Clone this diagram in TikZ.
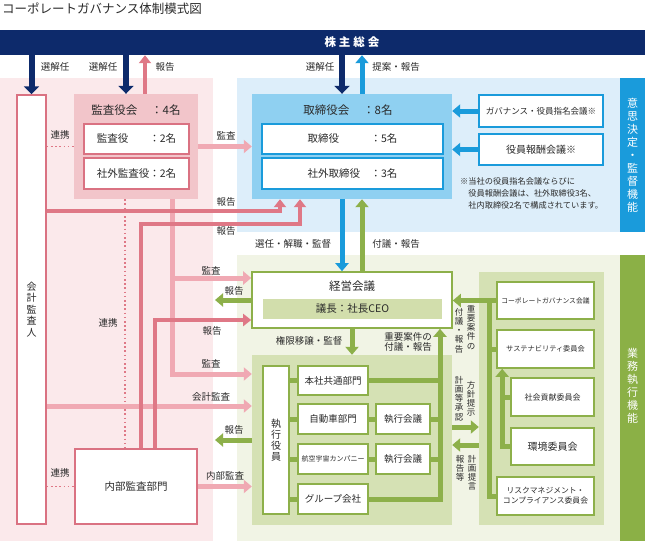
\documentclass[tikz,border=0pt]{standalone}
\usepackage{fontspec}
\setmainfont{Noto Sans CJK JP}
\usetikzlibrary{arrows.meta}

\definecolor{navy}{HTML}{0D2A6B}
\definecolor{skyline}{HTML}{1A9BDB}
\definecolor{skybg}{HTML}{DDEEFA}
\definecolor{skybox}{HTML}{8FD0F1}
\definecolor{pinkbg}{HTML}{FBE9EB}
\definecolor{pinkbox}{HTML}{F2C5CA}
\definecolor{pinklight}{HTML}{F0A9B3}
\definecolor{pinkdark}{HTML}{DF7886}
\definecolor{pinkedge}{HTML}{DA7282}
\definecolor{greenband}{HTML}{8BB046}
\definecolor{greenbg}{HTML}{F1F4E5}
\definecolor{greenarea}{HTML}{D5E1B4}
\definecolor{greenline}{HTML}{8DB04A}
\definecolor{greenbar}{HTML}{D2DEAC}
\definecolor{textgray}{HTML}{2A2A2A}

\tikzset{
    txt/.style={inner sep=0pt, text=textgray, font=\fontsize{9.5}{11}\selectfont},
    box/.style={draw, fill=white, inner sep=0pt, text=textgray, font=\fontsize{9.5}{11}\selectfont},
    pkbox/.style={box, draw=pinkedge, line width=1.5pt},
    blbox/.style={box, draw=skyline, line width=1.8pt, font=\fontsize{10.5}{12}\selectfont},
    grbox/.style={box, draw=greenline, line width=1.6pt},
    tate/.style={align=center, inner sep=0pt, anchor=north, text=textgray, font=\fontsize{8.5}{9.2}\selectfont},
    navyarr/.style={draw=navy, line width=6pt, -{Triangle[width=15pt,length=8pt]}},
    bluearr/.style={draw=skyline, line width=5pt, -{Triangle[width=13pt,length=8pt]}},
    pkarr/.style={draw=pinklight, line width=5pt, -{Triangle[width=13pt,length=8pt]}},
    pkdarr/.style={draw=pinkdark, line width=4.5pt, -{Triangle[width=12pt,length=8pt]}},
    grarr/.style={draw=greenline, line width=5pt, -{Triangle[width=13pt,length=8pt]}},
    grline/.style={draw=greenline, line width=5pt},
    renkei/.style={draw=pinkdark, line width=1.6pt, dash pattern=on 1.6pt off 2.6pt},
}

\begin{document}
\begin{tikzpicture}[x=1pt,y=-1pt]
    \useasboundingbox (0,0) rectangle (645,541);

    % Backgrounds
    \fill[pinkbg] (0,78) rectangle (213,541);
    \fill[skybg] (237,78) rectangle (620,232);
    \fill[greenbg] (237,255) rectangle (620,541);
    \fill[navy] (0,30) rectangle (645,55);
    \fill[greenband] (620,255) rectangle (645,541);

    % Title and shareholders
    \node[txt, anchor=west, font=\fontsize{12.5}{14}\selectfont] (title) at (2,9) {コーポレートガバナンス体制模式図};
    \node[inner sep=0pt, minimum height=25pt, text=white, font=\fontsize{11.5}{13}\selectfont\bfseries] (soukai) at (352,42.5) {株\hspace{3pt}主\hspace{3pt}総\hspace{3pt}会};

    % Side bands
    \node[fill=skyline, minimum width=25pt, minimum height=154pt, inner sep=0pt, text=white, align=center, font=\fontsize{11}{13}\selectfont] (kettei) at (632.5,155) {意\\思\\決\\定\\・\\監\\督\\機\\能};
    \node[inner sep=0pt, text=white, align=center, font=\fontsize{11}{13}\selectfont] (gyomu) at (632.5,386) {業\\務\\執\\行\\機\\能};

    % Audit side
    \node[pkbox, minimum width=29pt, minimum height=429pt, align=center, font=\fontsize{10}{11.5}\selectfont] (kaikei) at (31.5,309.5) {会\\計\\監\\査\\人};
    \node[fill=pinkbox, minimum width=124pt, minimum height=105pt, inner sep=0pt] (kansakai) at (136,146.5) {};
    \node[txt, font=\fontsize{11.5}{13}\selectfont] (kansakaih) at (136,110) {監査役会\hspace{1.2em}：4名};
    \node[pkbox, minimum width=105pt, minimum height=30pt, font=\fontsize{10.5}{12}\selectfont] (kansayaku) at (136.5,139) {監査役\hspace{2em}：2名};
    \node[pkbox, minimum width=105pt, minimum height=31pt, font=\fontsize{10.5}{12}\selectfont] (shagaikansa) at (136.5,173.5) {社外監査役：2名};
    \node[pkbox, minimum width=122pt, minimum height=75pt, font=\fontsize{10.5}{12}\selectfont] (naibu) at (136,486.5) {内部監査部門};

    % Board side
    \node[fill=skybox, minimum width=200pt, minimum height=105pt, inner sep=0pt] (torikai) at (352,146.5) {};
    \node[txt, font=\fontsize{11.5}{13}\selectfont] (torikaih) at (348,110) {取締役会\hspace{1.2em}：8名};
    \node[blbox, minimum width=181pt, minimum height=30pt] (toriyaku) at (352.5,139) {取締役\hspace{3em}：5名};
    \node[blbox, minimum width=181pt, minimum height=31pt] (shagaitori) at (352.5,173.5) {社外取締役\hspace{1em}：3名};
    \node[blbox, minimum width=124pt, minimum height=32pt, font=\fontsize{8.5}{10}\selectfont] (shimei) at (541,111) {ガバナンス・役員指名会議※};
    \node[blbox, minimum width=124pt, minimum height=31pt, font=\fontsize{10}{11}\selectfont] (hoshu) at (541,149.5) {役員報酬会議※};
    \node[txt, anchor=north west, align=left, font=\fontsize{8.2}{12}\selectfont] (chuki) at (460,177) {※当社の役員指名会議ならびに\\\hspace*{1em}役員報酬会議は、社外取締役3名、\\\hspace*{1em}社内取締役2名で構成されています。};

    % Management side
    \node[grbox, minimum width=200pt, minimum height=56pt] (keiei) at (352,300) {};
    \node[txt, font=\fontsize{11.5}{13}\selectfont] (keieih) at (352,286) {経営会議};
    \node[fill=greenbar, minimum width=179pt, minimum height=20pt, inner sep=0pt, text=textgray, font=\fontsize{10.5}{12}\selectfont] (gicho) at (352.5,309) {議長：社長CEO};
    \node[fill=greenarea, minimum width=200pt, minimum height=170pt, inner sep=0pt] (shikkoarea) at (352,440) {};
    \node[fill=greenarea, minimum width=125pt, minimum height=253pt, inner sep=0pt] (iinarea) at (541.5,398.5) {};
    \node[grbox, minimum width=26pt, minimum height=148pt, align=center, font=\fontsize{10}{11}\selectfont] (shikko) at (276,440) {執\\行\\役\\員};
    \node[grbox, minimum width=70pt, minimum height=29pt] (honsha) at (333,380.5) {本社共通部門};
    \node[grbox, minimum width=70pt, minimum height=30pt] (jidosha) at (333,419) {自動車部門};
    \node[grbox, minimum width=70pt, minimum height=30pt, font=\fontsize{7}{8}\selectfont] (koku) at (333,459) {航空宇宙カンパニー};
    \node[grbox, minimum width=70pt, minimum height=30pt] (group) at (333,499) {グループ会社};
    \node[grbox, minimum width=54pt, minimum height=30pt] (kaigi1) at (403,419) {執行会議};
    \node[grbox, minimum width=54pt, minimum height=30pt] (kaigi2) at (403,459) {執行会議};

    % Committees
    \node[grbox, minimum width=97pt, minimum height=37pt, font=\fontsize{6.8}{8}\selectfont] (cgc) at (545.5,300.5) {コーポレートガバナンス会議};
    \node[grbox, minimum width=97pt, minimum height=38pt, font=\fontsize{7.2}{8}\selectfont] (sus) at (545.5,349) {サステナビリティ委員会};
    \node[grbox, minimum width=83pt, minimum height=38pt, font=\fontsize{8}{9}\selectfont] (shakai) at (552.5,397) {社会貢献委員会};
    \node[grbox, minimum width=83pt, minimum height=37pt, font=\fontsize{10}{11}\selectfont] (kankyo) at (552.5,446.5) {環境委員会};
    \node[grbox, minimum width=97pt, minimum height=38pt, align=center, font=\fontsize{7.8}{10}\selectfont] (risk) at (545.5,496) {リスクマネジメント・\\コンプライアンス委員会};

    % Free ends
    \coordinate (hokokua) at (215,300);
    \coordinate (hokokub) at (215,440);

    % Shareholders arrows
    \draw[navyarr] (soukai.south -| kaikei.north) -- (kaikei.north);
    \draw[navyarr] ([xshift=-10pt]kansakai.north |- soukai.south) -- ([xshift=-10pt]kansakai.north);
    \draw[pkdarr] ([xshift=9pt]kansakai.north) -- ([xshift=9pt]kansakai.north |- soukai.south);
    \draw[navyarr] ([xshift=-10pt]torikai.north |- soukai.south) -- ([xshift=-10pt]torikai.north);
    \draw[bluearr] ([xshift=10pt]torikai.north) -- ([xshift=10pt]torikai.north |- soukai.south);

    % Board
    \draw[bluearr] (shimei.west) -- (shimei.west -| torikai.east);
    \draw[bluearr] (hoshu.west) -- (hoshu.west -| torikai.east);
    \draw[bluearr] ([xshift=-10pt]torikai.south) -- ([xshift=-10pt]keiei.north);
    \draw[grarr] ([xshift=10pt]keiei.north) -- ([xshift=10pt]torikai.south);

    % Audit lines
    \draw[renkei] (kaikei.east |- kansakai.west) -- (kansakai.west);
    \draw[renkei] (kaikei.east |- naibu.west) -- (naibu.west);
    \draw[renkei] ([xshift=-11pt]kansakai.south) -- ([xshift=-11pt]kansakai.south |- naibu.north);
    \draw[pkarr] (kansakai.east) -- (kansakai.east -| torikai.west);
    \draw[pkarr] ([xshift=36pt]kansakai.south) |- (shikkoarea.west |- 0,374);
    \draw[pkarr] ([xshift=36pt]kansakai.south |- 0,278) -- (keiei.west |- 0,278);
    \draw[pkarr] (kaikei.east |- 0,406) -- (shikkoarea.west |- 0,406);
    \draw[pkarr] (naibu.east) -- (naibu.east -| shikkoarea.west);
    \draw[pkdarr] (kaikei.east |- 0,211) -| ([xshift=-72pt]torikai.south);
    \draw[pkdarr] ([xshift=5pt]naibu.north) |- ([xshift=-52pt]torikai.south |- 0,224) -- ([xshift=-52pt]torikai.south);
    \draw[pkdarr] ([xshift=19pt]naibu.north) |- (keiei.west |- 0,320);

    % Reports back
    \draw[grarr] (keiei.west) -- (hokokua);
    \draw[grarr] (shikkoarea.west) -- (hokokub);
    \draw[grarr] (keiei.south) -- (keiei.south |- shikkoarea.north);

    % Executive lines
    \foreach \b in {honsha,jidosha,koku,group}
        \draw[grline] (shikko.east |- \b.west) -- (\b.west);
    \draw[grline] (jidosha.east) -- (kaigi1.west);
    \draw[grline] (koku.east) -- (kaigi2.west);
    \foreach \b in {honsha,kaigi1,kaigi2}
        \draw[grline] (\b.east) -- ([xshift=88pt]keiei.south |- \b.east);
    \draw[grarr] (group.east) -| ([xshift=88pt]keiei.south);

    % Committee lines
    \draw[grarr] (cgc.west) -- (cgc.west -| keiei.east);
    \draw[grline] (risk.west) -| ([xshift=-7pt]cgc.west);
    \draw[grline] (sus.west) -- ([xshift=-7pt]sus.west);
    \draw[grline] (shakai.west) -- ([xshift=-8pt]shakai.west);
    \draw[grarr] (kankyo.west) -| ([xshift=6pt]sus.south west);
    \draw[grarr] (shikkoarea.east |- 0,427) -- (iinarea.west |- 0,427);
    \draw[grarr] (iinarea.west |- 0,445) -- (shikkoarea.east |- 0,445);

    % Labels
    \node[txt] (l1) at (55,67) {選解任};
    \node[txt] (l2) at (103,67) {選解任};
    \node[txt] (l3) at (165,67) {報告};
    \node[txt] (l4) at (320,67) {選解任};
    \node[txt] (l5) at (396,67) {提案・報告};
    \node[txt] (l6) at (60,135) {連携};
    \node[txt] (l7) at (226,136) {監査};
    \node[txt] (l8) at (226,202) {報告};
    \node[txt] (l9) at (226,231) {報告};
    \node[txt] (l10) at (293,244) {選任・解職・監督};
    \node[txt] (l11) at (396,244) {付議・報告};
    \node[txt] (l12) at (211,271) {監査};
    \node[txt] (l13) at (234,291) {報告};
    \node[txt] (l14) at (212,331) {報告};
    \node[txt] (l15) at (108,323) {連携};
    \node[txt] (l16) at (211,364) {監査};
    \node[txt] (l17) at (211,397) {会計監査};
    \node[txt] (l18) at (234,430) {報告};
    \node[txt] (l19) at (60,473) {連携};
    \node[txt] (l20) at (225,476) {内部監査};
    \node[txt] (l21) at (309,341) {権限移譲・監督};
    \node[txt, align=center, font=\fontsize{9.5}{10.5}\selectfont] (l22) at (408,342) {重要案件の\\付議・報告};
    \node[tate] (t1) at (471,305) {重\\要\\案\\件\\の};
    \node[tate] (t2) at (459,308) {付\\議\\・\\報\\告};
    \node[tate] (t3) at (471,381) {方\\針\\提\\示};
    \node[tate] (t4) at (459,376) {計\\画\\等\\承\\認};
    \node[tate] (t5) at (472,455) {計\\画\\提\\言};
    \node[tate] (t6) at (460,455) {報\\告\\等};
\end{tikzpicture}
\end{document}
